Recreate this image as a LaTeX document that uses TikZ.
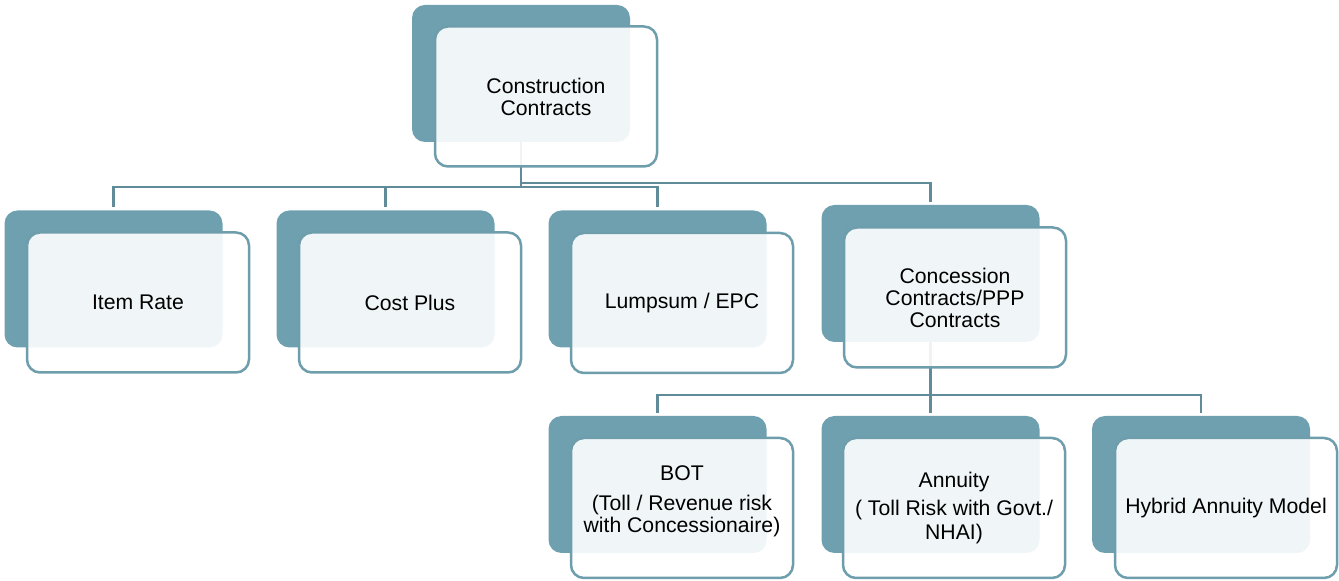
\documentclass[tikz,border=0pt]{standalone}
\usepackage{fontspec}
\setmainfont{Liberation Sans}
\usetikzlibrary{backgrounds}
\definecolor{ctdark}{RGB}{111,160,175}
\definecolor{ctedge}{RGB}{110,158,172}
\definecolor{ctline}{RGB}{96,140,153}
\tikzset{
  back/.style={fill=ctdark, draw=none, rounded corners=6.5pt,
    minimum width=109pt, minimum height=68.5pt},
  front/.style={draw=ctedge, line width=1.25pt, rounded corners=6.5pt,
    fill=white, fill opacity=0.9, text opacity=1, align=center,
    minimum width=111pt, minimum height=70pt,
    font=\fontsize{10.6}{11}\selectfont},
  link/.style={draw=ctline, line width=1.4pt}
}

\begin{document}
\begin{tikzpicture}[x=0.5pt,y=-0.5pt]
\useasboundingbox (0,0) rectangle (1339,581);
% top level
\node[back]  (topb) at (521,73.5) {};
\node[front] (top)  at (546,96.5) {Construction\\Contracts};
% second row
\node[back]  (itemb) at (113.5,279) {};
\node[front] (item)  at (138,302.5) {Item Rate};
\node[back]  (costb) at (385.5,279) {};
\node[front] (cost)  at (410,302.5) {Cost Plus};
\node[back]  (lumpb) at (657.5,279) {};
\node[front] (lump)  at (682,303) {Lumpsum / EPC};
\node[back]  (concb) at (930.5,273.5) {};
\node[front] (conc)  at (955,297.5) {Concession\\Contracts/PPP\\Contracts};
% third row
\node[back]  (botb) at (657.5,484.5) {};
\node[front] (bot)  at (682,508) {BOT\\[4pt](Toll / Revenue risk\\with Concessionaire)\\[-2pt]\mbox{}};
\node[back]  (annb) at (930.5,484.5) {};
\node[front] (ann)  at (954,508) {Annuity\\[3pt]( Toll Risk with Govt./\\[1pt]NHAI)};
\node[back]  (hybb) at (1201,484.5) {};
\node[front] (hyb)  at (1226,508) {Hybrid Annuity Model};
% connectors
\coordinate (busa) at (521,187);
\coordinate (busb) at (521,183);
\coordinate (busc) at (930.5,395);
\begin{scope}[on background layer,shorten >=1.5pt]
\draw[link] (topb.south) -- (busa) -| (itemb.north);
\draw[link] (busa) -| (costb.north);
\draw[link] (busa) -| (lumpb.north);
\draw[link] (busb) -| (concb.north);
\draw[link] (concb.south) -- (busc) -| (botb.north);
\draw[link] (busc) -- (annb.north);
\draw[link] (busc) -| (hybb.north);
\end{scope}
\end{tikzpicture}
\end{document}
